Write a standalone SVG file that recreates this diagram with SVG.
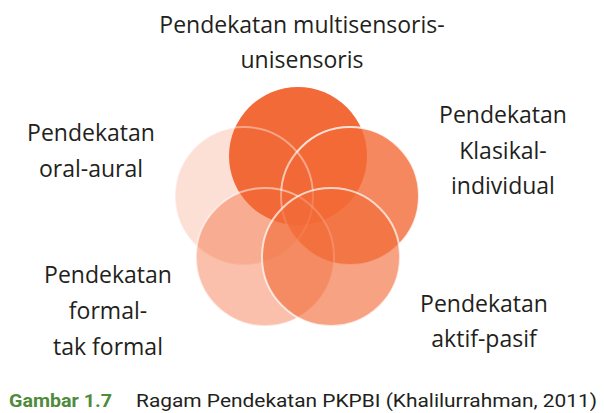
<svg xmlns="http://www.w3.org/2000/svg" width="604" height="413" viewBox="0 0 604 413">
<style>
.c{fill:#F26A37;stroke:#fff;stroke-width:2}
.t{font-family:"Open Sans","Noto Sans",sans-serif;font-size:23px;fill:#231F20;text-anchor:middle}
.cap{font-family:Roboto,"Liberation Sans",sans-serif;font-size:18px}
</style>
<rect width="604" height="413" fill="#fff"/>
<g id="node-multisensoris">
<circle class="c" cx="298" cy="156" r="69" stroke-opacity="0"/>
<text class="t" x="302" y="33">Pendekatan multisensoris-</text>
<text class="t" x="302" y="68">unisensoris</text>
</g>
<g id="node-klasikal">
<circle class="c" cx="350" cy="196" r="69" fill-opacity="0.8" stroke-opacity="0.8"/>
<text class="t" x="503" y="123">Pendekatan</text>
<text class="t" x="503" y="159">Klasikal-</text>
<text class="t" x="503" y="194">individual</text>
</g>
<g id="node-oral">
<circle class="c" cx="244" cy="196" r="69" fill-opacity="0.21" stroke-opacity="0.4"/>
<text class="t" x="91" y="141">Pendekatan</text>
<text class="t" x="91" y="177">oral-aural</text>
</g>
<g id="node-formal">
<circle class="c" cx="265" cy="257" r="69" fill-opacity="0.42" stroke-opacity="0.5"/>
<text class="t" x="108" y="283">Pendekatan</text>
<text class="t" x="108" y="319">formal-</text>
<text class="t" x="108" y="355">tak formal</text>
</g>
<g id="node-aktif">
<circle class="c" cx="331" cy="257" r="69" fill-opacity="0.62" stroke-opacity="0.7"/>
<text class="t" x="484" y="312">Pendekatan</text>
<text class="t" x="484" y="347">aktif-pasif</text>
</g>
<g id="connectors"></g>
<g id="caption">
<text class="cap" x="9" y="407" fill="#4E8B3A" font-weight="bold" textLength="103" lengthAdjust="spacingAndGlyphs">Gambar 1.7</text>
<text class="cap" x="136" y="407" fill="#231F20" textLength="461" lengthAdjust="spacingAndGlyphs">Ragam Pendekatan PKPBI (Khalilurrahman, 2011)</text>
</g>
</svg>
